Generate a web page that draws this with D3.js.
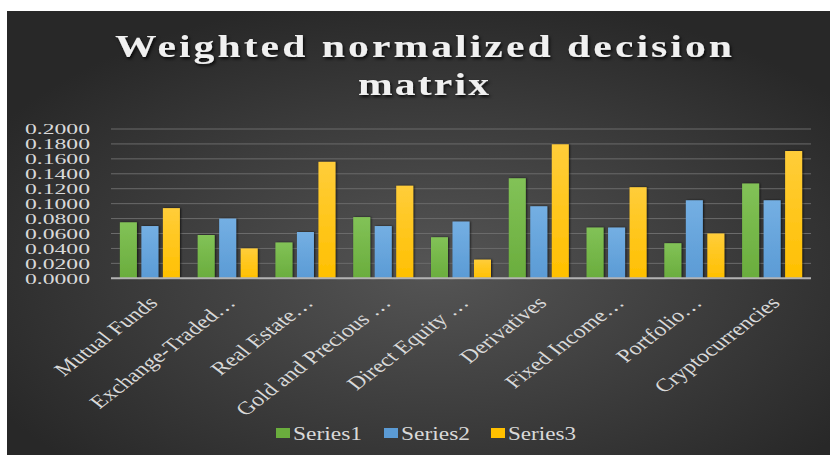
<!DOCTYPE html>
<html><head><meta charset="utf-8">
<script src="https://cdn.jsdelivr.net/npm/d3@7"></script>
<style>html,body{margin:0;padding:0;background:#fff;}svg{display:block;}</style>
</head><body>
<svg id="chart" width="830" height="455"></svg>
<script>
const categories = ["Mutual Funds","Exchange-Traded…","Real Estate…","Gold and Precious …","Direct Equity …","Derivatives","Fixed Income…","Portfolio…","Cryptocurrencies"];
const seriesNames = ["Series1","Series2","Series3"];
const series1 = [0.0750,0.0580,0.0480,0.0820,0.0550,0.1340,0.0680,0.0470,0.1270];
const series2 = [0.0700,0.0800,0.0620,0.0700,0.0760,0.0965,0.0680,0.1045,0.1045];
const series3 = [0.0940,0.0400,0.1560,0.1240,0.0250,0.1795,0.1220,0.0600,0.1705];
const yTicks = [0,0.02,0.04,0.06,0.08,0.10,0.12,0.14,0.16,0.18,0.20];
const titleLines = ["Weighted normalized decision","matrix"];
const colors = ["#6aad3d","#5b9bd5","#ffc000"];
const lightColors = ["#82c257","#74afe3","#ffcd3a"];

const allSeries = [series1,series2,series3];
const svg = d3.select("#chart");
const defs = svg.append("defs");

const bg = defs.append("radialGradient").attr("id","bg").attr("cx","52%").attr("cy","58%").attr("r","62%");
bg.append("stop").attr("offset","0%").attr("stop-color","#555555");
bg.append("stop").attr("offset","100%").attr("stop-color","#282828");

colors.forEach((c,i)=>{
  const g = defs.append("linearGradient").attr("id","bar"+i).attr("x1",0).attr("y1",0).attr("x2",0).attr("y2",1);
  g.append("stop").attr("offset","0%").attr("stop-color",lightColors[i]);
  g.append("stop").attr("offset","100%").attr("stop-color",c);
});

const sh = defs.append("filter").attr("id","tshadow").attr("x","-10%").attr("y","-30%").attr("width","120%").attr("height","160%");
sh.append("feDropShadow").attr("dx",1.5).attr("dy",2).attr("stdDeviation",1.5).attr("flood-color","#000").attr("flood-opacity",0.8);
const bsh = defs.append("filter").attr("id","bshadow").attr("x","-30%").attr("y","-10%").attr("width","160%").attr("height","120%");
bsh.append("feDropShadow").attr("dx",1).attr("dy",0).attr("stdDeviation",1.2).attr("flood-color","#000").attr("flood-opacity",0.7);

svg.append("rect").attr("x",7).attr("y",11).attr("width",823).attr("height",444).attr("fill","url(#bg)");

// Title
const title = svg.append("g").attr("filter","url(#tshadow)");
const titleWidths = [617,131];
const titleY = [57,95];
const tScale = 1.3;
titleLines.forEach((t,i)=>{
  title.append("text").attr("transform",`translate(423.5,${titleY[i]}) scale(${tScale},1)`)
    .attr("x",0).attr("y",0).attr("text-anchor","middle")
    .attr("font-family","'Liberation Serif', serif").attr("font-weight","bold").attr("font-size",32)
    .attr("fill","#f0f0f0").attr("textLength",titleWidths[i]/tScale).attr("lengthAdjust","spacing").text(t);
});

const plot = {left:111,right:811,top:129,bottom:278.3};
const y = d3.scaleLinear().domain([0,0.2]).range([plot.bottom,plot.top]);
const x0 = d3.scaleBand().domain(categories).range([plot.left,plot.right]).padding(0);
const groupW = 60;
const x1 = d3.scaleBand().domain(seriesNames)
  .range([(x0.bandwidth()-groupW)/2,(x0.bandwidth()+groupW)/2]).paddingInner(0.21).paddingOuter(0);

// gridlines
svg.append("g").selectAll("line").data(yTicks.filter(d=>d>0)).join("line")
  .attr("x1",plot.left).attr("x2",plot.right).attr("y1",d=>y(d)).attr("y2",d=>y(d))
  .attr("stroke","#6b6b6b").attr("stroke-width",1);

// y labels
const fmt = d3.format(".4f");
svg.append("g").selectAll("text").data(yTicks).join("text")
  .attr("x",90).attr("y",d=>y(d)+5.2).attr("text-anchor","end")
  .attr("font-family","'Liberation Serif', serif").attr("font-size",15.5).attr("fill","#d9d9d9")
  .attr("textLength",65).attr("lengthAdjust","spacingAndGlyphs").text(d=>fmt(d));

// bars
const groups = svg.append("g").selectAll("g").data(categories).join("g")
  .attr("transform",d=>`translate(${x0(d)},0)`);
groups.selectAll("rect").data((d,ci)=>allSeries.map((s,si)=>({si,v:s[ci]}))).join("rect")
  .attr("x",d=>x1(seriesNames[d.si])).attr("width",x1.bandwidth())
  .attr("y",d=>y(d.v)).attr("height",d=>y(0)-y(d.v))
  .attr("fill",d=>`url(#bar${d.si})`).attr("filter","url(#bshadow)");

// axis line
svg.append("line").attr("x1",plot.left).attr("x2",plot.right).attr("y1",y(0)).attr("y2",y(0))
  .attr("stroke","#b3b3b3").attr("stroke-width",2);

// x labels
svg.append("g").selectAll("text").data(categories).join("text")
  .attr("transform",d=>`translate(${x0(d)+x0.bandwidth()/2+9},304) scale(1.3,1) rotate(-45)`)
  .attr("text-anchor","end")
  .attr("font-family","'Liberation Serif', serif").attr("font-size",18.5).attr("fill","#d9d9d9")
  .text(d=>d);

// legend
const legend = svg.append("g");
const legX = [276,384,491];
const legW = [69,69,68];
seriesNames.forEach((n,i)=>{
  legend.append("rect").attr("x",legX[i]).attr("y",428).attr("width",14).attr("height",10).attr("fill",colors[i]);
  legend.append("text").attr("x",legX[i]+17).attr("y",440).attr("font-family","'Liberation Serif', serif")
    .attr("font-size",18).attr("fill","#d9d9d9").attr("textLength",legW[i]).attr("lengthAdjust","spacingAndGlyphs").text(n);
});
</script>
</body></html>
